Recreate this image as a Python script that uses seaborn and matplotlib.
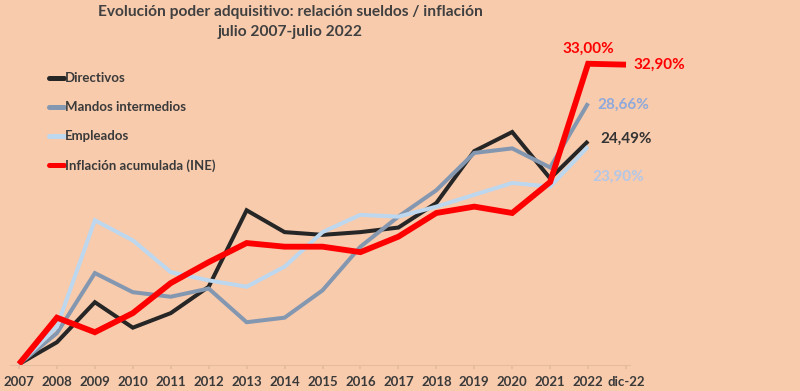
import numpy as np
import pandas as pd
import matplotlib
matplotlib.use("Agg")
import matplotlib.pyplot as plt
import seaborn as sns
from matplotlib.lines import Line2D

categories = ["2007", "2008", "2009", "2010", "2011", "2012", "2013", "2014", "2015",
              "2016", "2017", "2018", "2019", "2020", "2021", "2022", "dic-22"]
directivos = [0, 2.4, 6.8, 4.0, 5.6, 8.5, 16.9, 14.5, 14.2, 14.5, 15.0, 17.7, 23.4, 25.5, 20.4, 24.49, np.nan]
mandos = [0, 3.4, 10.0, 7.9, 7.4, 8.3, 4.6, 5.1, 8.1, 12.9, 16.2, 19.1, 23.2, 23.7, 21.6, 28.66, np.nan]
empleados = [0, 4.1, 15.8, 13.6, 10.1, 9.2, 8.5, 10.7, 14.5, 16.4, 16.2, 17.3, 18.6, 19.9, 19.5, 23.90, np.nan]
inflacion = [0, 5.1, 3.5, 5.6, 8.9, 11.2, 13.3, 12.9, 12.9, 12.3, 14.0, 16.6, 17.3, 16.6, 20.0, 33.00, 32.90]
series_names = ["Directivos", "Mandos intermedios", "Empleados", "Inflación acumulada (INE)"]
title_lines = ["Evolución poder adquisitivo: relación sueldos / inflación", "julio 2007-julio 2022"]

BG = "#F8CBAD"
colors = ["#262626", "#8497B0", "#BDD7EE", "#FF0000"]
widths = [2.9, 2.9, 2.9, 4.2]

sns.set_theme(style="white")
plt.rcParams["font.family"] = ["Lato", "DejaVu Sans"]

df = pd.DataFrame({"idx": np.arange(len(categories)), "cat": categories,
                   series_names[0]: directivos, series_names[1]: mandos,
                   series_names[2]: empleados, series_names[3]: inflacion})

fig = plt.figure(figsize=(8.0, 3.91), dpi=100, facecolor=BG)
ax = fig.add_axes([0.0125, 0.0665, 0.775, 0.831])
ax.set_facecolor(BG)

for name, c, lw in zip(series_names, colors, widths):
    sns.lineplot(data=df, x="idx", y=name, color=c, linewidth=lw, ax=ax,
                 solid_joinstyle="miter", solid_capstyle="butt", clip_on=False)

ax.set_xlim(-0.237, 16.105)
ax.set_ylim(-0.1, 35.6)
ax.set_xticks(df["idx"])
ax.set_xticklabels(categories, fontsize=9.5, fontweight="bold", color="#3A3A3A")
ax.set_yticks([])
ax.set_xlabel("")
ax.set_ylabel("")
for s in ["top", "right", "left"]:
    ax.spines[s].set_visible(False)
ax.spines["bottom"].set_color("#E6BC9E")
ax.spines["bottom"].set_linewidth(0.8)
ax.tick_params(axis="x", length=3, color="#E6BC9E", pad=5, bottom=True)

# value labels
i22 = categories.index("2022")
idc = categories.index("dic-22")
lab_kw = dict(textcoords="offset points", fontsize=11, fontweight="bold", annotation_clip=False)
ax.annotate("33,00%", (i22, inflacion[i22]), xytext=(0, 6), ha="center", va="bottom", color="#FF0000", **lab_kw)
ax.annotate("32,90%", (idc, inflacion[idc]), xytext=(5, 0), ha="left", va="center", color="#FF0000", **lab_kw)
ax.annotate("28,66%", (i22, mandos[i22]), xytext=(7, -1), ha="left", va="center", color="#8EA9DB", **lab_kw)
ax.annotate("24,49%", (i22, directivos[i22]), xytext=(9, 1.5), ha="left", va="center", color="#333333", **lab_kw)
ax.annotate("23,90%", (i22, empleados[i22]), xytext=(3, -21.5), ha="left", va="center", color="#B4C7E7", **lab_kw)

# legend
handles = [Line2D([0], [0], color=c, linewidth=3.6) for c in colors]
fig.legend(handles, series_names, loc="upper left", bbox_to_anchor=(0.047, 0.845),
           frameon=False, handlelength=1.1, handletextpad=0.05, labelspacing=1.28,
           prop={"size": 9.5, "weight": "bold"}, labelcolor="#3A3A3A")

fig.text(0.3625, 0.97, title_lines[0], ha="center", va="center", fontsize=11.2,
         fontweight="bold", color="#404040")
fig.text(0.3625, 0.918, title_lines[1], ha="center", va="center", fontsize=11.2,
         fontweight="bold", color="#404040")

fig.savefig("out.png", dpi=100, facecolor=BG)
